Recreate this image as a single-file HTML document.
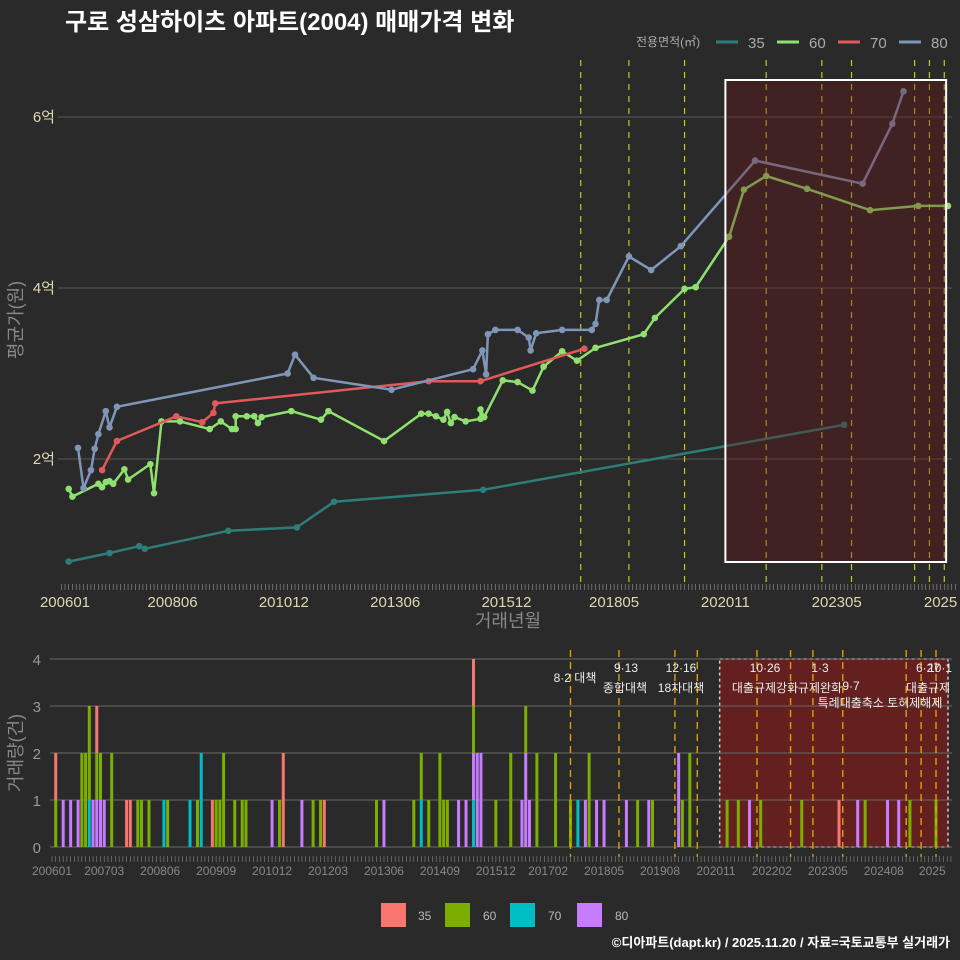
<!DOCTYPE html>
<html><head><meta charset="utf-8"><style>
html,body{margin:0;padding:0;background:#2a2a2a;}
svg{display:block;font-family:"Liberation Sans","Noto Sans CJK KR",sans-serif;}
</style></head><body>
<svg id="c" width="960" height="960" viewBox="0 0 960 960">
<rect x="0" y="0" width="960" height="960" fill="#2a2a2a"/>
<text x="65" y="30" fill="#fff" font-size="24" font-weight="bold">구로 성삼하이츠 아파트(2004) 매매가격 변화</text>
<g>
<text x="636" y="46" fill="#aaa" font-size="12">전용면적(㎡)</text>
<line x1="716" y1="42" x2="738" y2="42" stroke="#2e7d78" stroke-width="3"/>
<text x="748" y="48" fill="#aaa" font-size="15">35</text>
<line x1="777" y1="42" x2="799" y2="42" stroke="#90e070" stroke-width="3"/>
<text x="809" y="48" fill="#aaa" font-size="15">60</text>
<line x1="838" y1="42" x2="860" y2="42" stroke="#e05a5a" stroke-width="3"/>
<text x="870" y="48" fill="#aaa" font-size="15">70</text>
<line x1="899" y1="42" x2="921" y2="42" stroke="#7f96b8" stroke-width="3"/>
<text x="931" y="48" fill="#aaa" font-size="15">80</text>
</g>
<text transform="translate(22,320) rotate(-90)" text-anchor="middle" fill="#888" font-size="18">평균가(원)</text>
<text x="508" y="627" text-anchor="middle" fill="#888" font-size="18">거래년월</text>
<text transform="translate(22,753) rotate(-90)" text-anchor="middle" fill="#888" font-size="18">거래량(건)</text>
<g>
<rect x="381" y="903" width="25" height="24" fill="#f8766d"/>
<text x="418" y="920" fill="#bbb" font-size="12">35</text>
<rect x="445" y="903" width="25" height="24" fill="#7cae00"/>
<text x="483" y="920" fill="#bbb" font-size="12">60</text>
<rect x="510" y="903" width="25" height="24" fill="#00bfc4"/>
<text x="548" y="920" fill="#bbb" font-size="12">70</text>
<rect x="577" y="903" width="25" height="24" fill="#c77cff"/>
<text x="615" y="920" fill="#bbb" font-size="12">80</text>
</g>
<text x="950" y="947" text-anchor="end" fill="#fff" font-size="13" font-weight="bold">©디아파트(dapt.kr) / 2025.11.20 / 자료=국토교통부 실거래가</text>
<g id="topPanel"></g>
<g id="botPanel"></g>
</svg>
<script>
// ---- data (month index = months since 2006-01) ----
const s35m=[1,12,20,21.5,44,62.5,72.5,112.7,210];
const s35v=[0.80,0.90,0.98,0.95,1.16,1.20,1.50,1.64,2.40];
const s60m=[1,2,9,10,11,12,13,16,17,23,24,26,31,39,42,45,46,46,49,51,52,53,61,69,71,86,96,98,100,102,103,104,105,108,112,112,113,118,122,126,129,134,138,143,156,159,167,170,179,183,189,200,217,230,238];
const s60v=[1.65,1.56,1.71,1.67,1.73,1.74,1.71,1.88,1.76,1.94,1.60,2.44,2.44,2.35,2.44,2.35,2.35,2.50,2.50,2.50,2.42,2.49,2.56,2.46,2.56,2.21,2.53,2.53,2.50,2.46,2.55,2.42,2.49,2.44,2.47,2.58,2.49,2.92,2.90,2.80,3.08,3.26,3.15,3.30,3.46,3.65,3.99,4.01,4.60,5.15,5.31,5.16,4.91,4.96,4.96];
const s70m=[10,14,30,37,40,40.5,98,112,140];
const s70v=[1.87,2.21,2.50,2.43,2.54,2.65,2.91,2.91,3.29];
const s80m=[3.5,5,7,8,9,11,12,14,60,62,67,88,110,112.5,113.5,114,116,122,125,125.5,127,134,142,143,144,146,152,158,166,186,215,223,226];
const s80v=[2.13,1.66,1.87,2.12,2.29,2.56,2.37,2.61,3.0,3.22,2.95,2.81,3.05,3.27,2.99,3.46,3.51,3.51,3.42,3.27,3.47,3.51,3.51,3.58,3.86,3.86,4.37,4.21,4.49,5.49,5.22,5.92,6.30];
const yTicks=[2,4,6];
const yTickLabels=["2억","4억","6억"];
const topXTickMonths=[0,29,59,89,119,148,178,208,236];
const topXTickLabels=["200601","200806","201012","201306","201512","201805","202011","202305","2025"];
const botXTickMonths=[0,14,29,44,59,74,89,104,119,133,148,163,178,193,208,223,236];
const botXTickLabels=["200601","200703","200806","200909","201012","201203","201306","201409","201512","201702","201805","201908","202011","202202","202305","202408","2025"];
const policyTop=[139,152,167,189,204,212,229,233,237];
const policyBot=[139,152,167,173,189,198,204,212,229,233,237];
const barMonths=[1,3,5,7,8,9,10,11,12,13,14,16,20,21,23,24,26,30,31,37,39,40,43,44,45,46,49,51,52,59,61,62,67,70,72,73,87,89,97,99,101,104,105,106,109,111,113,114,115,119,123,126,127,128,130,135,139,141,143,144,146,148,154,157,160,161,168,169,171,181,184,187,190,201,211,216,218,224,227,230,237];
const bar35=[1,0,0,0,0,0,0,0,1,0,0,0,1,1,0,0,0,0,0,0,0,0,1,0,0,0,0,0,0,0,0,2,0,0,0,1,0,0,0,0,0,0,0,0,0,0,1,0,0,0,0,0,0,0,0,0,0,0,0,0,0,0,0,0,0,0,0,0,0,0,0,0,0,0,1,0,0,0,0,0,0];
const bar60=[1,0,0,0,2,2,2,0,1,1,0,2,0,0,1,1,1,0,1,0,1,0,0,1,1,2,1,1,1,0,1,0,0,1,1,0,1,0,1,1,1,2,1,1,0,0,1,0,0,1,2,0,1,0,2,2,1,0,0,2,0,0,0,1,0,1,0,1,2,1,1,0,1,1,0,0,1,0,0,1,1];
const bar70=[0,0,0,0,0,0,1,0,0,0,0,0,0,0,0,0,0,1,0,1,0,2,0,0,0,0,0,0,0,0,0,0,0,0,0,0,0,0,0,1,0,0,0,0,0,0,1,0,0,0,0,0,0,0,0,0,0,1,0,0,0,0,0,0,0,0,0,0,0,0,0,0,0,0,0,0,0,0,0,0,0];
const bar80=[0,1,1,1,0,0,0,1,1,1,1,0,0,0,0,0,0,0,0,0,0,0,0,0,0,0,0,0,0,1,0,0,1,0,0,0,0,1,0,0,0,0,0,0,1,1,1,2,2,0,0,1,2,1,0,0,0,0,1,0,1,1,1,0,1,0,2,0,0,0,0,1,0,0,0,1,0,1,1,0,0];
const volTicks=[0,1,2,3,4];

const NS="http://www.w3.org/2000/svg";
function mk(parent,tag,attrs){const e=document.createElementNS(NS,tag);for(const k in attrs)e.setAttribute(k,attrs[k]);parent.appendChild(e);return e;}
const tx=m=>65+m*3.71;
const ty=v=>459-(v-2)*85.5;
const bx=m=>52+m*3.73;
const by=v=>847-v*47;
const topG=document.getElementById('topPanel');
const botG=document.getElementById('botPanel');

yTicks.forEach((v,i)=>{
 const l=mk(topG,'line',{x1:58,x2:952,y1:ty(v),y2:ty(v),stroke:'#585858','stroke-width':1});
 
 
 const t=mk(topG,'text',{x:55,y:ty(v)+5,'text-anchor':'end',fill:'#ddd8b0','font-size':15});
 t.textContent=yTickLabels[i];
 
 
});
for(let m=-1;m<=240;m++){
 const l=mk(topG,'line',{x1:tx(m),x2:tx(m),y1:584,y2:590,stroke:'#999','stroke-width':0.6});
 
 
}
topXTickMonths.forEach((m,i)=>{
 const t=mk(topG,'text',{x:tx(m),y:607,'text-anchor':'middle',fill:'#ddd8b0','font-size':15});
 t.textContent=topXTickLabels[i];
 
 
});
policyTop.forEach(m=>{
 const l=mk(topG,'line',{x1:tx(m),x2:tx(m),y1:60,y2:588,stroke:'#c8c820','stroke-width':1.2,'stroke-dasharray':'6,6'});
 
 
});
const series=[[s35m,s35v,'#2e7d78','35'],[s60m,s60v,'#90e070','60'],[s70m,s70v,'#e05a5a','70'],[s80m,s80v,'#7f96b8','80']];
series.forEach(([ms,vs,col,name])=>{
 const d=ms.map((m,i)=>(i?'L':'M')+tx(m).toFixed(1)+','+ty(vs[i]).toFixed(1)).join('');
 const p=mk(topG,'path',{d:d,fill:'none',stroke:col,'stroke-width':2.5,'stroke-linejoin':'round'});
 
 
 ms.forEach((m,i)=>{
  const c=mk(topG,'circle',{cx:tx(m),cy:ty(vs[i]),r:3.3,fill:col});
  
  
 });
});
const hb=mk(topG,'rect',{x:tx(178),y:80,width:tx(237.5)-tx(178),height:482,fill:'rgba(110,20,20,0.35)',stroke:'#fff','stroke-width':2});



const bb=mk(botG,'rect',{x:bx(179),y:659,width:948-bx(179),height:188,fill:'rgba(120,28,28,0.75)',stroke:'#ccc','stroke-width':1.5,'stroke-dasharray':'3,3'});


volTicks.forEach(v=>{
 const l=mk(botG,'line',{x1:50,x2:952,y1:by(v),y2:by(v),stroke:'#6a6a6a','stroke-width':1});
 
 
 const t=mk(botG,'text',{x:41,y:by(v)+6,'text-anchor':'end',fill:'#999','font-size':15});
 t.textContent=String(v);
 
 
});
const stackOrder=[[bar70,'#00bfc4','70'],[bar80,'#c77cff','80'],[bar60,'#7cae00','60'],[bar35,'#f8766d','35']];
barMonths.forEach((m,i)=>{
 let base=0;
 stackOrder.forEach(([arr,col,name])=>{
  const n=arr[i];
  if(!n)return;
  const r=mk(botG,'rect',{x:bx(m)-1.5,y:by(base+n),width:3,height:by(base)-by(base+n),fill:col});
  
  
  base+=n;
 });
});
policyBot.forEach(m=>{
 const l=mk(botG,'line',{x1:bx(m),x2:bx(m),y1:650,y2:857,stroke:'#e0a000','stroke-width':1.4,'stroke-dasharray':'7,5'});
 
 
});
for(let m=0;m<=241;m++){
 const l=mk(botG,'line',{x1:bx(m),x2:bx(m),y1:856,y2:862,stroke:'#888','stroke-width':0.6});
 
 
}
botXTickMonths.forEach((m,i)=>{
 const t=mk(botG,'text',{x:bx(m),y:875,'text-anchor':'middle',fill:'#888','font-size':12});
 t.textContent=botXTickLabels[i];
 
 
});
const notes=[["8·2 대책",575,682],["9·13",626,672],["종합대책",625,692],["12·16",681,672],["18차대책",681,692],["10·26",765,672],["대출규제강화",765,692],["1·3",820,672],["규제완화",820,692],["9·7",851,690],["특례대출축소 토허제해제",880,707],["6·27",928,672],["10·1",940,672],["대출규제",928,692]];
notes.forEach(([s,x,y])=>{
 const t=mk(botG,'text',{x:x,y:y,'text-anchor':'middle',fill:'#eee','font-size':12});
 t.textContent=s;
 
 
});
</script>
</body></html>
